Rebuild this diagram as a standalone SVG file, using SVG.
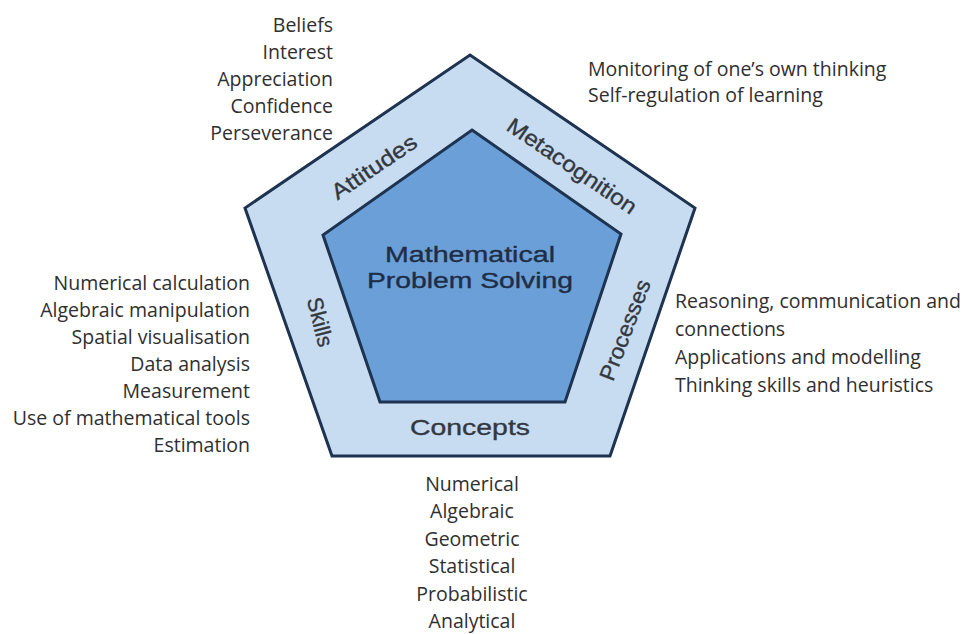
<svg xmlns="http://www.w3.org/2000/svg" width="965" height="634" viewBox="0 0 965 634">
<style>
.pent{stroke:#1d3350;stroke-width:3;stroke-linejoin:miter}
.outer{fill:#c8dcf1}
.inner{fill:#6a9fd7}
.band{font-family:"Liberation Sans",Arial,sans-serif;font-size:22px;fill:#33383f;stroke:#33383f;stroke-width:0.35;text-anchor:middle}
.core{font-family:"Liberation Sans",Arial,sans-serif;font-size:22px;fill:#1f2d45;stroke:#1f2d45;stroke-width:0.35;text-anchor:middle}
.lst{font-family:"Open Sans","Noto Sans",sans-serif;font-size:19.5px;fill:#2f2f2f}
.r{text-anchor:end}
.m{text-anchor:middle}
.l{text-anchor:start}
</style>
<rect width="965" height="634" fill="#ffffff"/>
<g id="outer-pentagon">
<polygon class="pent outer" points="470,55 695,208 610,456 332,456 245,208"/>
</g>
<g id="inner-pentagon">
<polygon class="pent inner" points="472,130 621,234 565,402 380,402 323,235"/>
<text class="core" x="470" y="262" textLength="170" lengthAdjust="spacingAndGlyphs">Mathematical</text>
<text class="core" x="470" y="288" textLength="206" lengthAdjust="spacingAndGlyphs">Problem Solving</text>
</g>
<g id="band-labels">
<text class="band" transform="translate(374,167) rotate(-34)" x="0" y="7.5" textLength="98" lengthAdjust="spacingAndGlyphs">Attitudes</text>
<text class="band" transform="translate(572,166) rotate(34.5)" x="0" y="7.5" textLength="152" lengthAdjust="spacingAndGlyphs">Metacognition</text>
<text class="band" transform="translate(625,330) rotate(-69)" x="0" y="7.5" textLength="106" lengthAdjust="spacingAndGlyphs">Processes</text>
<text class="band" transform="translate(320,322) rotate(76)" x="0" y="7.5" textLength="50" lengthAdjust="spacingAndGlyphs">Skills</text>
<text class="band" x="470" y="435" font-size="23" textLength="120" lengthAdjust="spacingAndGlyphs">Concepts</text>
</g>
<g id="attitudes-list">
<text class="lst r" x="333" y="32">Beliefs</text>
<text class="lst r" x="333" y="59">Interest</text>
<text class="lst r" x="333" y="86">Appreciation</text>
<text class="lst r" x="333" y="113">Confidence</text>
<text class="lst r" x="333" y="140">Perseverance</text>
</g>
<g id="metacognition-list">
<text class="lst l" x="588" y="76">Monitoring of one’s own thinking</text>
<text class="lst l" x="588" y="102">Self-regulation of learning</text>
</g>
<g id="skills-list">
<text class="lst r" x="250" y="290">Numerical calculation</text>
<text class="lst r" x="250" y="317">Algebraic manipulation</text>
<text class="lst r" x="250" y="344">Spatial visualisation</text>
<text class="lst r" x="250" y="371">Data analysis</text>
<text class="lst r" x="250" y="398">Measurement</text>
<text class="lst r" x="250" y="425">Use of mathematical tools</text>
<text class="lst r" x="250" y="452">Estimation</text>
</g>
<g id="processes-list">
<text class="lst l" x="675" y="308">Reasoning, communication and</text>
<text class="lst l" x="675" y="336">connections</text>
<text class="lst l" x="675" y="364">Applications and modelling</text>
<text class="lst l" x="675" y="392">Thinking skills and heuristics</text>
</g>
<g id="concepts-list">
<text class="lst m" x="472" y="491">Numerical</text>
<text class="lst m" x="472" y="518">Algebraic</text>
<text class="lst m" x="472" y="546">Geometric</text>
<text class="lst m" x="472" y="573">Statistical</text>
<text class="lst m" x="472" y="601">Probabilistic</text>
<text class="lst m" x="472" y="628">Analytical</text>
</g>
<g id="connectors"></g>
</svg>
